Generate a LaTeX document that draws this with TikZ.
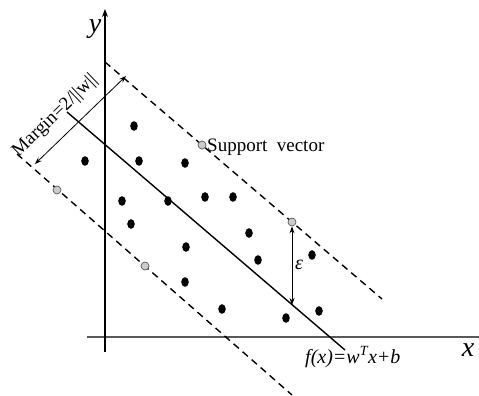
\documentclass[tikz,border=0pt]{standalone}
\usepackage{fontspec}
\setmainfont{Liberation Serif}
\usetikzlibrary{arrows.meta,shapes.geometric}
\begin{document}
\begin{tikzpicture}[x=1pt,y=-1pt,
  dot/.style={ellipse,fill=black,minimum width=7.6pt,minimum height=9.6pt,inner sep=0pt},
  sv/.style={circle,draw=black!65,fill=black!20,line width=0.7pt,minimum size=8pt,inner sep=0pt},
  axis/.style={line width=1.1pt},
  hyper/.style={line width=1.4pt},
  marginline/.style={line width=1.4pt,dash pattern=on 7pt off 5pt},
  dim/.style={line width=0.8pt,{Stealth[length=7pt,width=5pt]}-{Stealth[length=7pt,width=5pt]}},
  lbl/.style={inner sep=0pt,font=\fontsize{19}{22}\selectfont}
]
\useasboundingbox (0,0) rectangle (479,396);
% axes
\coordinate (yb) at (105,352);
\coordinate (yt) at (105,9);
\coordinate (xl) at (87,337);
\coordinate (xr) at (479,337);
\draw[axis,black!65] (xl) -- (xr);
\draw[axis,-{Stealth[length=8pt,width=6pt]}] (yb) -- (yt);
\node[inner sep=0pt,anchor=base,font=\fontsize{28}{30}\selectfont\itshape] (ylab) at (95,33) {y};
\node[inner sep=0pt,anchor=base,font=\fontsize{28}{30}\selectfont\itshape] (xlab) at (468,356) {x};
% hyperplanes
\coordinate (uA) at (105,62);
\coordinate (uB) at (382,299);
\coordinate (cA) at (67,112);
\coordinate (cB) at (345,350);
\coordinate (lA) at (17,154);
\coordinate (lB) at (292,395);
\draw[marginline] (uA) -- (uB);
\draw[marginline] (lA) -- (lB);
\draw[hyper] (cA) -- (cB);
% data points
\foreach \n/\px/\py in {1/134/126,2/85/161,3/139/161,4/185/163,5/122/201,6/168/201,
  7/205/197,8/233/197,9/131/224,10/186/247,11/185/282,12/222/309,13/249/233,
  14/258/260,15/312/255,16/319/311,17/286/318}
  \node[dot] (p\n) at (\px,\py) {};
% support vectors
\node[sv] (s1) at (57,190) {};
\node[sv] (s2) at (145,266) {};
\node[sv] (s3) at (202,145) {};
\node[sv] (s4) at (292,222) {};
% support vector label
\node[lbl,anchor=base west] (svl) at (207,151) {Support\ \ vector};
% margin arrow
\coordinate (m1) at (126,76);
\coordinate (m2) at (35,164);
\draw[dim] (m1) -- (m2);
\node[lbl,rotate=44] (ml) at (55,116) {Margin=2/||w||};
% epsilon arrow
\coordinate (e1) at (292,305);
\draw[dim] (s4.south) -- (e1);
\node[inner sep=0pt,font=\fontsize{20}{22}\selectfont\itshape] (eps) at (299,265) {ε};
% function label
\node[inner sep=0pt,anchor=base west,font=\fontsize{20}{24}\selectfont\itshape] (fl) at (305,363) {f(x)=w\textsuperscript{T}x+b};
\end{tikzpicture}
\end{document}
